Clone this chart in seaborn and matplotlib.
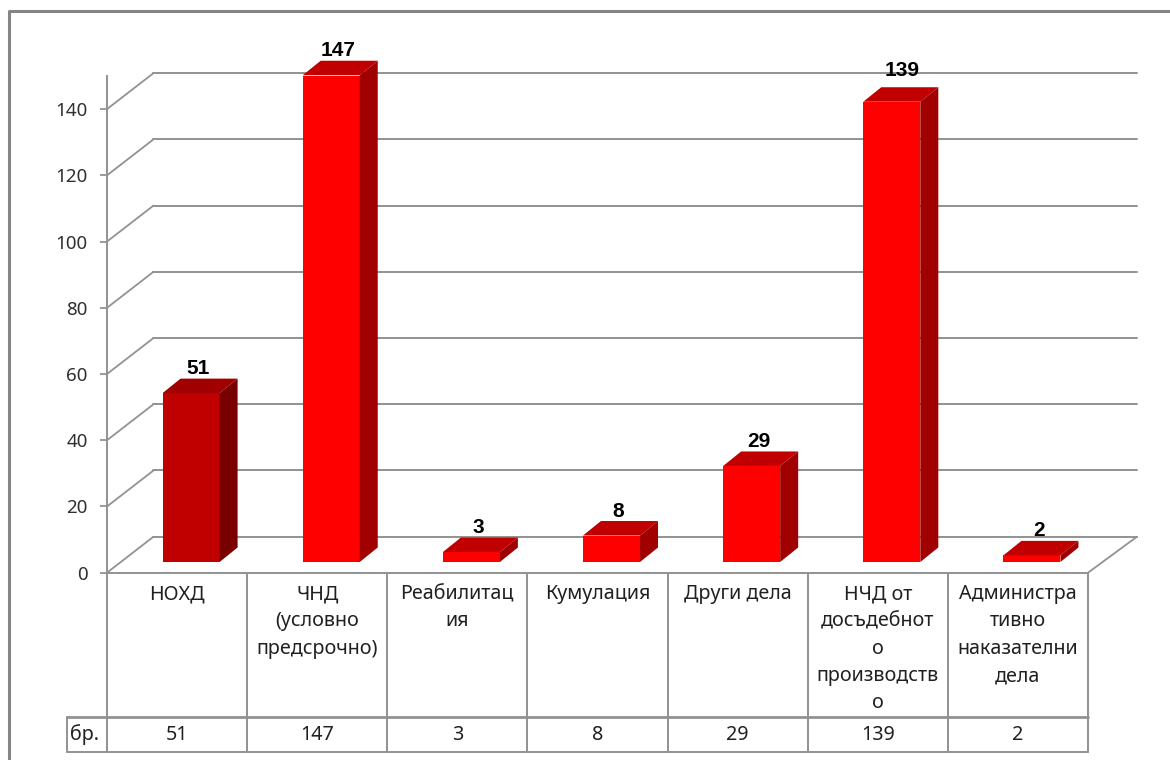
import matplotlib
matplotlib.use("Agg")
import matplotlib.pyplot as plt
import pandas as pd
import seaborn as sns
from matplotlib.patches import Polygon

# values
categories = ["НОХД", "ЧНД\n(условно\nпредсрочно)", "Реабилитац\nия", "Кумулация", "Други дела",
              "НЧД от\nдосъдебнот\nо\nпроизводств\nо", "Администра\nтивно\nнаказателни\nдела"]
values = [51, 147, 3, 8, 29, 139, 2]
yticks = [0, 20, 40, 60, 80, 100, 120, 140]
row_label = "бр."

front_colors = ["#C00000", "#FF0000", "#FF0000", "#FF0000", "#FF0000", "#FF0000", "#FF0000"]
top_colors = ["#A00000", "#C00000", "#C00000", "#C00000", "#C00000", "#C00000", "#C00000"]
side_colors = ["#780000", "#A00000", "#A00000", "#A00000", "#A00000", "#A00000", "#A00000"]

sns.set_style("white")
plt.rcParams["font.family"] = ["Noto Sans", "DejaVu Sans"]

W, H = 1170, 760
GRID = "#929292"
TEXT = "#303030"

fig = plt.figure(figsize=(W / 100, H / 100), dpi=100)
# plot front plane, in pixels of the image
left, right, top, bottom = 107, 1088, 76, 572.7
ax = fig.add_axes([left / W, 1 - bottom / H, (right - left) / W, (bottom - top) / H])
ax.patch.set_alpha(0)

df = pd.DataFrame({"category": categories, "value": values})
sns.barplot(data=df, x="category", y="value", hue="category", palette=front_colors,
            width=0.407, legend=False, saturation=1, linewidth=0, ax=ax, zorder=3)
ax.set_xlim(-0.5, 6.5)
ax.set_ylim(0, 150)
ax.set_xlabel("")
ax.set_ylabel("")

# pixel sizes in data units
px_x = 7 / (right - left)
px_y = 150 / (bottom - top)
wall_dx, wall_dy = 46.5 * px_x, 36 * px_y
right_dx = 49 * px_x
depth_dx, depth_dy = 18 * px_x, 14.5 * px_y
shift_x, floor = 14 * px_x, 10.7 * px_y


def y_px(py):
    return (bottom - py) * px_y


# walls: the back grid lines and their diagonals
for t in yticks:
    ax.plot([-0.5, -0.5 + wall_dx], [t, t + wall_dy], color=GRID, lw=1.3, clip_on=False, zorder=1)
    ax.plot([-0.5 + wall_dx, 6.5 + right_dx], [t + wall_dy, t + wall_dy], color=GRID, lw=1.4,
            clip_on=False, zorder=1)
ax.plot([6.5, 6.5 + right_dx], [0, wall_dy], color=GRID, lw=1.3, clip_on=False, zorder=1)

# turn the flat bars into boxes
for bar, val, tc, sc in zip(ax.patches, values, top_colors, side_colors):
    bar.set_x(bar.get_x() + shift_x)
    bar.set_y(floor)
    x0, x1 = bar.get_x(), bar.get_x() + bar.get_width()
    y0, y1 = floor, floor + val
    ax.add_patch(Polygon([(x0, y1), (x1, y1), (x1 + depth_dx, y1 + depth_dy), (x0 + depth_dx, y1 + depth_dy)],
                         facecolor=tc, edgecolor="none", zorder=3, clip_on=False))
    ax.add_patch(Polygon([(x1, y0), (x1, y1), (x1 + depth_dx, y1 + depth_dy), (x1 + depth_dx, y0 + depth_dy)],
                         facecolor=sc, edgecolor="none", zorder=3, clip_on=False))
    # excel pushed the 139 label a bit higher and to the right
    extra_x, extra_y = (3, 7) if val == 139 else (0, 0)
    ax.text((x0 + x1) / 2 + (7 + extra_x) * px_x, y1 + depth_dy + (10 + extra_y) * px_y, str(val),
            ha="center", va="center", fontsize=15, fontweight="bold", family="Liberation Sans",
            color="black", zorder=5, clip_on=False)

# axes
sns.despine(ax=ax, top=True, right=True)
for s in ["left", "bottom"]:
    ax.spines[s].set_color(GRID)
    ax.spines[s].set_linewidth(1.4)
ax.set_yticks(yticks)
ax.set_xticks([])
ax.tick_params(axis="y", length=5, width=1.3, color=GRID, left=True, labelcolor=TEXT, labelsize=13.5, pad=9)

# data table under the plot
table_mid, table_low = y_px(717), y_px(752)
edges = [-0.5 + i for i in range(8)]
for e in edges:
    ax.plot([e, e], [0, table_low], color=GRID, lw=1.4, clip_on=False, zorder=2)
head = -0.5 - 39.5 * px_x
ax.plot([head, 6.5], [table_mid, table_mid], color=GRID, lw=2, clip_on=False)
ax.plot([head, 6.5], [table_low, table_low], color=GRID, lw=1.4, clip_on=False)
ax.plot([head, head], [table_mid, table_low], color=GRID, lw=1.4, clip_on=False)
ax.text(head + 17.5 * px_x, (table_mid + table_low) / 2, row_label, ha="center", va="center",
        fontsize=14.2, color="#202020", clip_on=False)
for i, (cat, val) in enumerate(zip(categories, values)):
    ax.text(i, y_px(584), cat, ha="center", va="top", fontsize=14.2, color="#202020",
            linespacing=1.49, clip_on=False)
    ax.text(i, (table_mid + table_low) / 2, str(val), ha="center", va="center", fontsize=14.2,
            color="#202020", clip_on=False)

# picture frame on the top and left only
fig.add_artist(plt.Line2D([9 / W, 9 / W, 1], [0, 1 - 11 / H, 1 - 11 / H], color="#858585", lw=2.2))

fig.savefig("out.png", dpi=100)
